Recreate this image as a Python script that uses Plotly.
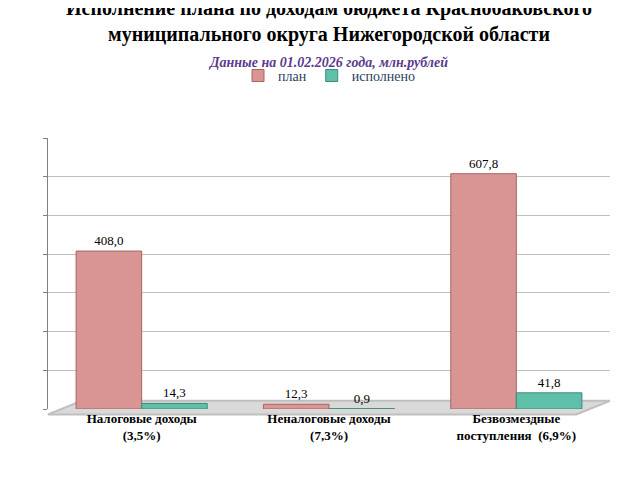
import plotly.graph_objects as go

categories = ["Налоговые доходы<br>(3,5%)", "Неналоговые доходы<br>(7,3%)", "Безвозмездные<br>поступления  (6,9%)"]
plan = [408.0, 12.3, 607.8]
done = [14.3, 0.9, 41.8]
plan_labels = ["408,0", "12,3", "607,8"]
done_labels = ["14,3", "0,9", "41,8"]

fig = go.Figure()
fig.add_trace(go.Bar(x=categories, y=plan, name="план", text=plan_labels,
                     textposition="outside", cliponaxis=False,
                     marker=dict(color="#D99594", line=dict(color="#A86463", width=1))))
fig.add_trace(go.Bar(x=categories, y=done, name="исполнено", text=done_labels,
                     textposition="outside", cliponaxis=False,
                     marker=dict(color="#5FBFA8", line=dict(color="#3C8C78", width=1))))

fig.update_traces(textfont=dict(family="Times New Roman, Liberation Serif", size=13, color="black"))

# floor
fig.add_shape(type="path", xref="paper", yref="paper",
              path="M 0,-0.02 L 0.06,0.03 L 1,0.03 L 0.94,-0.02 Z",
              fillcolor="#D9D9D9", line=dict(color="#BFBFBF"), layer="below")

fig.update_layout(
    width=642, height=481,
    paper_bgcolor="white", plot_bgcolor="white",
    margin=dict(l=40, r=40, t=130, b=80),
    barmode="group", bargap=0.3, bargroupgap=0.0,
    title=dict(text="<b>Исполнение плана по доходам бюджета Краснобаковского<br>муниципального округа Нижегородской области</b>"
                    "<br><span style='font-size:14px;color:#5B3A8C'><i><b>Данные на 01.02.2026 года, млн.рублей</b></i></span>",
               x=0.5, y=0.985, xanchor="center", yanchor="top",
               font=dict(family="Times New Roman, Liberation Serif", size=20, color="black")),
    legend=dict(orientation="h", x=0.5, xanchor="center", y=1.17, yanchor="bottom",
                font=dict(family="Times New Roman, Liberation Serif", size=14)),
    xaxis=dict(tickfont=dict(family="Times New Roman, Liberation Serif", size=13, color="black"),
               showline=False, ticks=""),
    yaxis=dict(range=[0, 700], dtick=100, showticklabels=False, showgrid=True,
               gridcolor="#BFBFBF", showline=True, linecolor="#808080", ticks="outside",
               ticklen=4, tickcolor="#808080", zeroline=False),
)
fig.update_xaxes(tickprefix="<b>", ticksuffix="</b>")

fig.write_html("out.html")
